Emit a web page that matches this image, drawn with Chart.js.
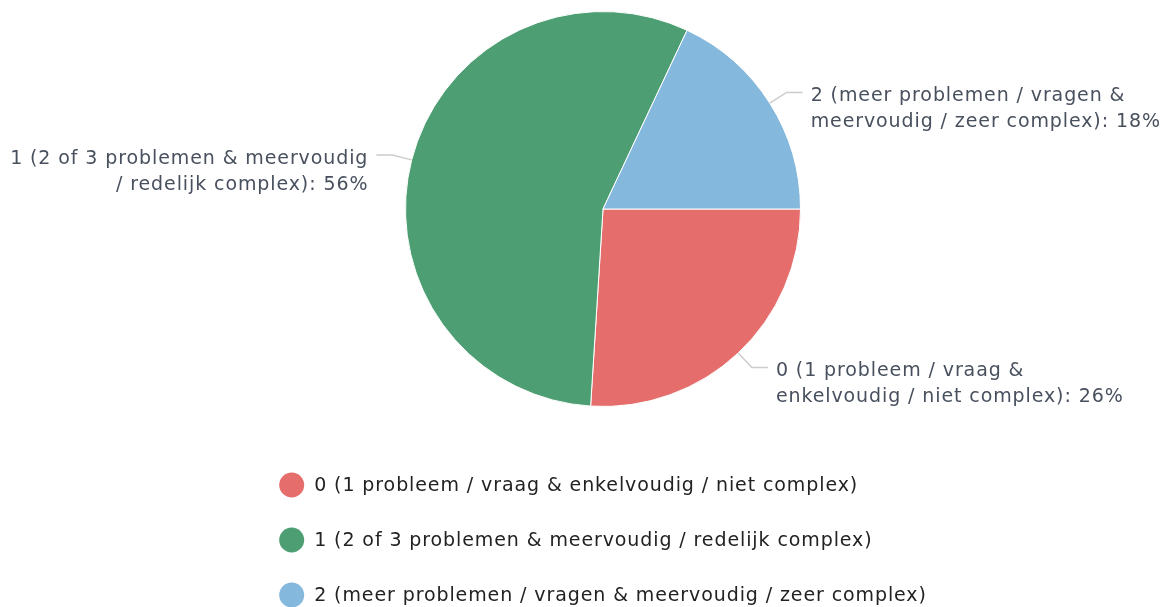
<!DOCTYPE html>
<html>
<head>
<meta charset="utf-8">
<script src="https://cdn.jsdelivr.net/npm/chart.js@4.4.1/dist/chart.umd.min.js"></script>
<style>
  html, body { margin: 0; padding: 0; background: #fff; }
  #wrap { width: 1166px; height: 607px; position: relative; }
</style>
</head>
<body>
<div id="wrap"><canvas id="chart"></canvas></div>
<script>
const categories = [
  "0 (1 probleem / vraag & enkelvoudig / niet complex)",
  "1 (2 of 3 problemen & meervoudig / redelijk complex)",
  "2 (meer problemen / vragen & meervoudig / zeer complex)"
];
const shares = [26, 56, 18];
const sliceColors = ["#e56e6d", "#4d9e72", "#85b8dd"];

const FONT_FAMILY = "'DejaVu Sans', sans-serif";
const FONT_SIZE = 19;
const LETTER_SPACING = "0.9px";

function setFont(ctx) {
  ctx.font = FONT_SIZE + "px " + FONT_FAMILY;
  ctx.letterSpacing = LETTER_SPACING;
}

function wrapText(ctx, text, maxWidth) {
  const words = text.split(" ");
  const lines = [];
  let line = "";
  words.forEach(w => {
    const test = line ? line + " " + w : w;
    if (line && ctx.measureText(test).width > maxWidth) {
      lines.push(line);
      line = w;
    } else {
      line = test;
    }
  });
  if (line) lines.push(line);
  return lines;
}

// labels outside the pie with leader lines
const outLabels = {
  id: "outLabels",
  afterDatasetsDraw(chart) {
    const ctx = chart.ctx;
    const meta = chart.getDatasetMeta(0);
    const total = shares.reduce((a, b) => a + b, 0);
    ctx.save();
    setFont(ctx);
    meta.data.forEach((arc, i) => {
      const p = arc.getProps(["x", "y", "startAngle", "endAngle", "outerRadius"], true);
      const mid = (p.startAngle + p.endAngle) / 2;
      const cos = Math.cos(mid), sin = Math.sin(mid);
      const x0 = p.x + cos * p.outerRadius, y0 = p.y + sin * p.outerRadius;
      const x1 = p.x + cos * (p.outerRadius + 20), y1 = p.y + sin * (p.outerRadius + 20);
      const right = cos >= 0;
      const x2 = x1 + (right ? 16 : -16);

      ctx.strokeStyle = "#cccccc";
      ctx.lineWidth = 1.5;
      ctx.beginPath();
      ctx.moveTo(x0, y0);
      ctx.lineTo(x1, y1);
      ctx.lineTo(x2, y1);
      ctx.stroke();

      const pct = Math.round(shares[i] / total * 100);
      const lines = wrapText(ctx, categories[i] + ": " + pct + "%", 365);
      ctx.fillStyle = "#48505e";
      ctx.textBaseline = "middle";
      ctx.textAlign = right ? "left" : "right";
      const tx = x2 + (right ? 8 : -8);
      lines.forEach((l, k) => ctx.fillText(l, tx, y1 + 4 + k * 26));
    });
    ctx.restore();
  }
};

// vertical legend under the pie, items left aligned
const bottomLegend = {
  id: "bottomLegend",
  afterDraw(chart) {
    const ctx = chart.ctx;
    const arc = chart.getDatasetMeta(0).data[0];
    ctx.save();
    setFont(ctx);
    const r = 12.5, gap = 10;
    const maxW = Math.max(...categories.map(c => ctx.measureText(c).width));
    const blockW = 2 * r + gap + maxW;
    const left = arc.x - blockW / 2;
    categories.forEach((c, i) => {
      const cy = 485 + i * 55;
      ctx.fillStyle = sliceColors[i];
      ctx.beginPath();
      ctx.arc(left + r, cy, r, 0, Math.PI * 2);
      ctx.fill();
      ctx.fillStyle = "#222222";
      ctx.textBaseline = "middle";
      ctx.textAlign = "left";
      ctx.fillText(c, left + 2 * r + gap, cy + 1);
    });
    ctx.restore();
  }
};

new Chart(document.getElementById("chart"), {
  type: "pie",
  data: {
    labels: categories,
    datasets: [{
      data: shares,
      backgroundColor: sliceColors,
      borderColor: "#ffffff",
      borderWidth: 1
    }]
  },
  options: {
    responsive: true,
    maintainAspectRatio: false,
    animation: false,
    rotation: 90,
    layout: { padding: { left: 40, right: 0, top: 11, bottom: 200 } },
    plugins: {
      legend: { display: false },
      tooltip: { enabled: false }
    }
  },
  plugins: [outLabels, bottomLegend]
});
</script>
</body>
</html>
